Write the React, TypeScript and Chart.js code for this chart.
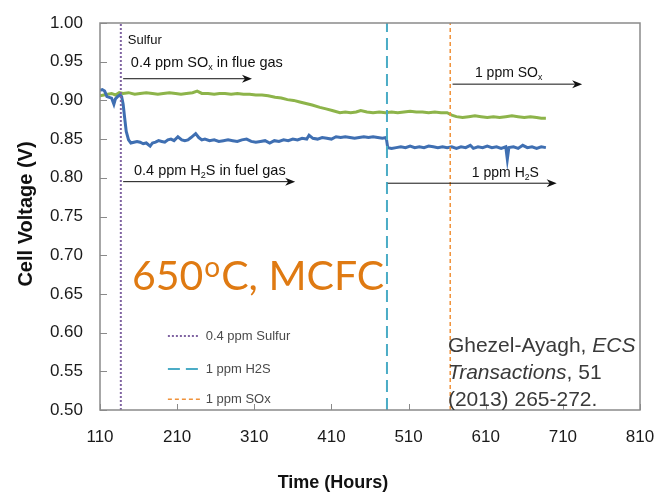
import React, { useEffect, useRef } from "react";
import { Chart, registerables } from "chart.js";

Chart.register(...registerables);

// ---------- data ----------
const xTickValues = [110, 210, 310, 410, 510, 610, 710, 810];
const yTickValues = [0.5, 0.55, 0.6, 0.65, 0.7, 0.75, 0.8, 0.85, 0.9, 0.95, 1.0];

const greenHours = [110, 115, 120, 125, 130, 135, 140, 147, 155, 162, 170, 178, 185, 192, 200, 208, 215, 222, 230, 236, 242, 250, 258, 265, 272, 280, 288, 296, 304, 312, 320, 328, 337, 345, 353, 361, 369, 377, 385, 395, 403, 411, 421, 428, 435, 442, 448, 456, 464, 472, 480, 488, 496, 504, 512, 520, 528, 536, 544, 552, 560, 566, 572, 580, 588, 596, 604, 612, 620, 628, 636, 644, 652, 660, 668, 676, 682, 688];
const greenVolts = [0.906, 0.907, 0.908, 0.909, 0.907, 0.910, 0.909, 0.910, 0.908, 0.909, 0.910, 0.909, 0.908, 0.909, 0.910, 0.909, 0.908, 0.909, 0.910, 0.912, 0.909, 0.909, 0.908, 0.909, 0.909, 0.908, 0.909, 0.908, 0.908, 0.907, 0.907, 0.906, 0.904, 0.903, 0.901, 0.900, 0.898, 0.896, 0.894, 0.891, 0.889, 0.887, 0.884, 0.885, 0.884, 0.885, 0.887, 0.885, 0.884, 0.885, 0.884, 0.885, 0.884, 0.885, 0.886, 0.885, 0.885, 0.884, 0.885, 0.884, 0.884, 0.881, 0.879, 0.878, 0.879, 0.880, 0.879, 0.878, 0.879, 0.878, 0.879, 0.880, 0.879, 0.878, 0.879, 0.878, 0.877, 0.877];

const blueHours = [110, 113, 116, 119, 122, 125, 128, 130, 133, 136, 138, 140, 142, 144, 147, 150, 154, 158, 162, 166, 170, 175, 178, 182, 186, 190, 194, 198, 202, 206, 211, 216, 220, 224, 228, 234, 238, 242, 246, 252, 258, 264, 270, 276, 282, 288, 294, 300, 306, 312, 318, 324, 330, 336, 342, 348, 354, 360, 366, 372, 378, 381, 386, 392, 398, 404, 410, 416, 422, 428, 434, 440, 446, 452, 458, 464, 470, 476, 481, 483, 488, 494, 500, 506, 512, 518, 524, 530, 536, 542, 548, 554, 560, 566, 572, 578, 584, 590, 594, 600, 606, 612, 618, 624, 630, 636, 638, 640, 646, 652, 658, 664, 670, 676, 682, 688];
const blueVolts = [0.913, 0.914, 0.912, 0.905, 0.904, 0.903, 0.895, 0.902, 0.905, 0.907, 0.905, 0.895, 0.877, 0.860, 0.849, 0.845, 0.846, 0.847, 0.846, 0.844, 0.845, 0.841, 0.845, 0.846, 0.848, 0.847, 0.846, 0.849, 0.850, 0.848, 0.853, 0.849, 0.848, 0.849, 0.852, 0.857, 0.852, 0.849, 0.850, 0.848, 0.849, 0.847, 0.848, 0.849, 0.848, 0.847, 0.849, 0.850, 0.847, 0.846, 0.847, 0.848, 0.845, 0.848, 0.847, 0.849, 0.848, 0.850, 0.849, 0.851, 0.850, 0.855, 0.851, 0.850, 0.852, 0.851, 0.850, 0.853, 0.852, 0.853, 0.852, 0.851, 0.852, 0.853, 0.852, 0.853, 0.852, 0.851, 0.852, 0.839, 0.838, 0.839, 0.840, 0.839, 0.841, 0.839, 0.840, 0.839, 0.841, 0.840, 0.839, 0.840, 0.839, 0.840, 0.838, 0.840, 0.839, 0.842, 0.838, 0.840, 0.839, 0.841, 0.839, 0.840, 0.838, 0.840, 0.824, 0.839, 0.840, 0.838, 0.842, 0.839, 0.840, 0.838, 0.840, 0.839];

const eventLabels = ["0.4 ppm Sulfur", "1 ppm H2S", "1 ppm SOx"];
const eventHours = [137, 482, 564];

const Y_MIN = 0.5;
const Y_MAX = 1.0;

// ---------- styles ----------
const FONT = "'Liberation Sans', Arial, sans-serif";
const eventColors = ["#8064A2", "#4BACC6", "#F0923A"];
const eventDashes = [[2, 2], [12, 6], [4, 3]];
const eventWidths = [2, 2, 1.5];

type Seg = { t: string; sub?: boolean; it?: boolean };

function drawSegs(ctx: CanvasRenderingContext2D, segs: Seg[], x: number, y: number, size: number, color: string) {
  ctx.fillStyle = color;
  ctx.textBaseline = "middle";
  ctx.textAlign = "left";
  let cx = x;
  for (const s of segs) {
    const sz = s.sub ? size * 0.62 : size;
    ctx.font = `${s.it ? "italic " : ""}${sz}px ${FONT}`;
    ctx.fillText(s.t, cx, s.sub ? y + size * 0.3 : y);
    cx += ctx.measureText(s.t).width;
  }
}

function arrow(ctx: CanvasRenderingContext2D, x1: number, x2: number, y: number) {
  ctx.save();
  ctx.strokeStyle = "#111";
  ctx.fillStyle = "#111";
  ctx.lineWidth = 1;
  ctx.beginPath();
  ctx.moveTo(x1, y);
  ctx.lineTo(x2 - 6, y);
  ctx.stroke();
  ctx.beginPath();
  ctx.moveTo(x2, y);
  ctx.lineTo(x2 - 10, y - 4);
  ctx.lineTo(x2 - 7, y);
  ctx.lineTo(x2 - 10, y + 4);
  ctx.closePath();
  ctx.fill();
  ctx.restore();
}

const decorPlugin = {
  id: "decor",
  afterDatasetsDraw(chart: any) {
    const ctx: CanvasRenderingContext2D = chart.ctx;
    const xs = chart.scales.x;
    const ys = chart.scales.y;
    const { left, right, top, bottom } = chart.chartArea;
    const px = (v: number) => xs.getPixelForValue(v);
    const py = (v: number) => ys.getPixelForValue(v);

    ctx.save();
    // frame
    ctx.strokeStyle = "#8a8a8a";
    ctx.lineWidth = 1.5;
    ctx.strokeRect(left, top, right - left, bottom - top);
    // inside ticks
    ctx.beginPath();
    for (const v of xTickValues) {
      const x = Math.round(px(v)) + 0.5;
      ctx.moveTo(x, bottom);
      ctx.lineTo(x, bottom - 6);
    }
    for (const v of yTickValues) {
      const y = Math.round(py(v)) + 0.5;
      ctx.moveTo(left, y);
      ctx.lineTo(left + 7, y);
    }
    ctx.lineWidth = 1;
    ctx.stroke();

    // annotations
    drawSegs(ctx, [{ t: "Sulfur" }], px(146), py(0.977), 13, "#111");
    drawSegs(ctx, [{ t: "0.4 ppm SO" }, { t: "x", sub: true }, { t: " in flue gas" }], px(150), py(0.948), 14.5, "#111");
    arrow(ctx, px(140), px(307), py(0.928));
    drawSegs(ctx, [{ t: "0.4 ppm H" }, { t: "2", sub: true }, { t: "S in fuel gas" }], px(154), py(0.809), 14.5, "#111");
    arrow(ctx, px(140), px(363), py(0.795));
    drawSegs(ctx, [{ t: "1 ppm SO" }, { t: "x", sub: true }], px(596), py(0.935), 14, "#111");
    arrow(ctx, px(567), px(735), py(0.921));
    drawSegs(ctx, [{ t: "1 ppm H" }, { t: "2", sub: true }, { t: "S" }], px(592), py(0.806), 14, "#111");
    arrow(ctx, px(483), px(702), py(0.793));

    // big label
    ctx.fillStyle = "#DF7A12";
    ctx.textBaseline = "alphabetic";
    ctx.textAlign = "left";
    let bx = px(151.5);
    const by = py(0.655);
    ctx.font = `41px Lato, 'Open Sans', sans-serif`;
    ctx.fillText("650", bx, by);
    bx += ctx.measureText("650").width + 1;
    ctx.font = `28px Lato, 'Open Sans', sans-serif`;
    ctx.fillText("o", bx, by - 13);
    bx += ctx.measureText("o").width + 1;
    ctx.font = `41px Lato, 'Open Sans', sans-serif`;
    ctx.fillText("C, MCFC", bx, by);

    // legend
    const legY = [0.5956, 0.553, 0.514];
    for (let i = 0; i < eventLabels.length; i++) {
      const y = py(legY[i]);
      ctx.save();
      ctx.strokeStyle = eventColors[i];
      ctx.lineWidth = eventWidths[i];
      ctx.setLineDash(eventDashes[i]);
      ctx.beginPath();
      ctx.moveTo(px(198), y);
      ctx.lineTo(px(i === 2 ? 243 : 237), y);
      ctx.stroke();
      ctx.restore();
      drawSegs(ctx, [{ t: eventLabels[i] }], px(247), y, 13, "#4a4a4a");
    }

    // citation
    const cx = px(561);
    drawSegs(ctx, [{ t: "Ghezel-Ayagh, " }, { t: "ECS", it: true }], cx, py(0.5827), 21, "#3a3a3a");
    drawSegs(ctx, [{ t: "Transactions", it: true }, { t: ", 51" }], cx, py(0.5478), 21, "#3a3a3a");
    drawSegs(ctx, [{ t: "(2013) 265-272." }], cx, py(0.5129), 21, "#3a3a3a");

    // axis titles
    ctx.fillStyle = "#111";
    ctx.font = `bold 18px ${FONT}`;
    ctx.textAlign = "center";
    ctx.textBaseline = "middle";
    ctx.fillText("Time (Hours)", 333, 483);
    ctx.save();
    ctx.translate(26, 214);
    ctx.rotate(-Math.PI / 2);
    ctx.font = `bold 20px ${FONT}`;
    ctx.fillText("Cell Voltage (V)", 0, 0);
    ctx.restore();

    ctx.restore();
  },
};

export default function App() {
  const ref = useRef<HTMLCanvasElement | null>(null);

  useEffect(() => {
    document.body.style.margin = "0";
    const canvas = ref.current;
    if (!canvas) return;

    const eventSets = eventHours.map((h, i) => ({
      label: eventLabels[i],
      data: [
        { x: h, y: Y_MIN },
        { x: h, y: Y_MAX },
      ],
      borderColor: eventColors[i],
      borderWidth: eventWidths[i],
      borderDash: eventDashes[i],
      pointRadius: 0,
      fill: false,
      order: 0,
    }));

    const chart = new Chart(canvas, {
      type: "line",
      data: {
        datasets: [
          ...eventSets,
          {
            label: "Green",
            data: greenHours.map((h, i) => ({ x: h, y: greenVolts[i] })),
            borderColor: "#8DB44A",
            borderWidth: 3,
            pointRadius: 0,
            tension: 0,
            fill: false,
            order: 2,
          },
          {
            label: "Blue",
            data: blueHours.map((h, i) => ({ x: h, y: blueVolts[i] })),
            borderColor: "#3F6FB2",
            borderWidth: 3,
            pointRadius: 0,
            tension: 0,
            fill: false,
            order: 1,
          },
        ],
      },
      options: {
        animation: false,
        responsive: false,
        maintainAspectRatio: false,
        layout: { padding: { top: 23, right: 24, left: 0, bottom: 0 } },
        plugins: {
          legend: { display: false },
          tooltip: { enabled: false },
          title: { display: false },
        },
        scales: {
          x: {
            type: "linear",
            min: 110,
            max: 810,
            afterBuildTicks: (s: any) => {
              s.ticks = xTickValues.map((v) => ({ value: v }));
            },
            afterFit: (s: any) => {
              s.height = 87;
              s.paddingLeft = 0;
              s.paddingRight = 0;
            },
            grid: { display: false, drawTicks: false },
            border: { display: false },
            ticks: {
              padding: 17,
              color: "#1a1a1a",
              font: { family: FONT, size: 17 },
              maxRotation: 0,
              autoSkip: false,
            },
          },
          y: {
            type: "linear",
            min: Y_MIN,
            max: Y_MAX,
            afterBuildTicks: (s: any) => {
              s.ticks = yTickValues.map((v) => ({ value: v }));
            },
            afterFit: (s: any) => {
              s.width = 100;
              s.paddingTop = 0;
              s.paddingBottom = 0;
            },
            grid: { display: false, drawTicks: false },
            border: { display: false },
            ticks: {
              padding: 17,
              color: "#1a1a1a",
              font: { family: FONT, size: 17 },
              autoSkip: false,
              callback: (v: any) => Number(v).toFixed(2),
            },
          },
        },
      },
      plugins: [decorPlugin],
    });

    return () => chart.destroy();
  }, []);

  return (
    <div style={{ width: 664, height: 497 }}>
      <canvas ref={ref} width={664} height={497} />
    </div>
  );
}
